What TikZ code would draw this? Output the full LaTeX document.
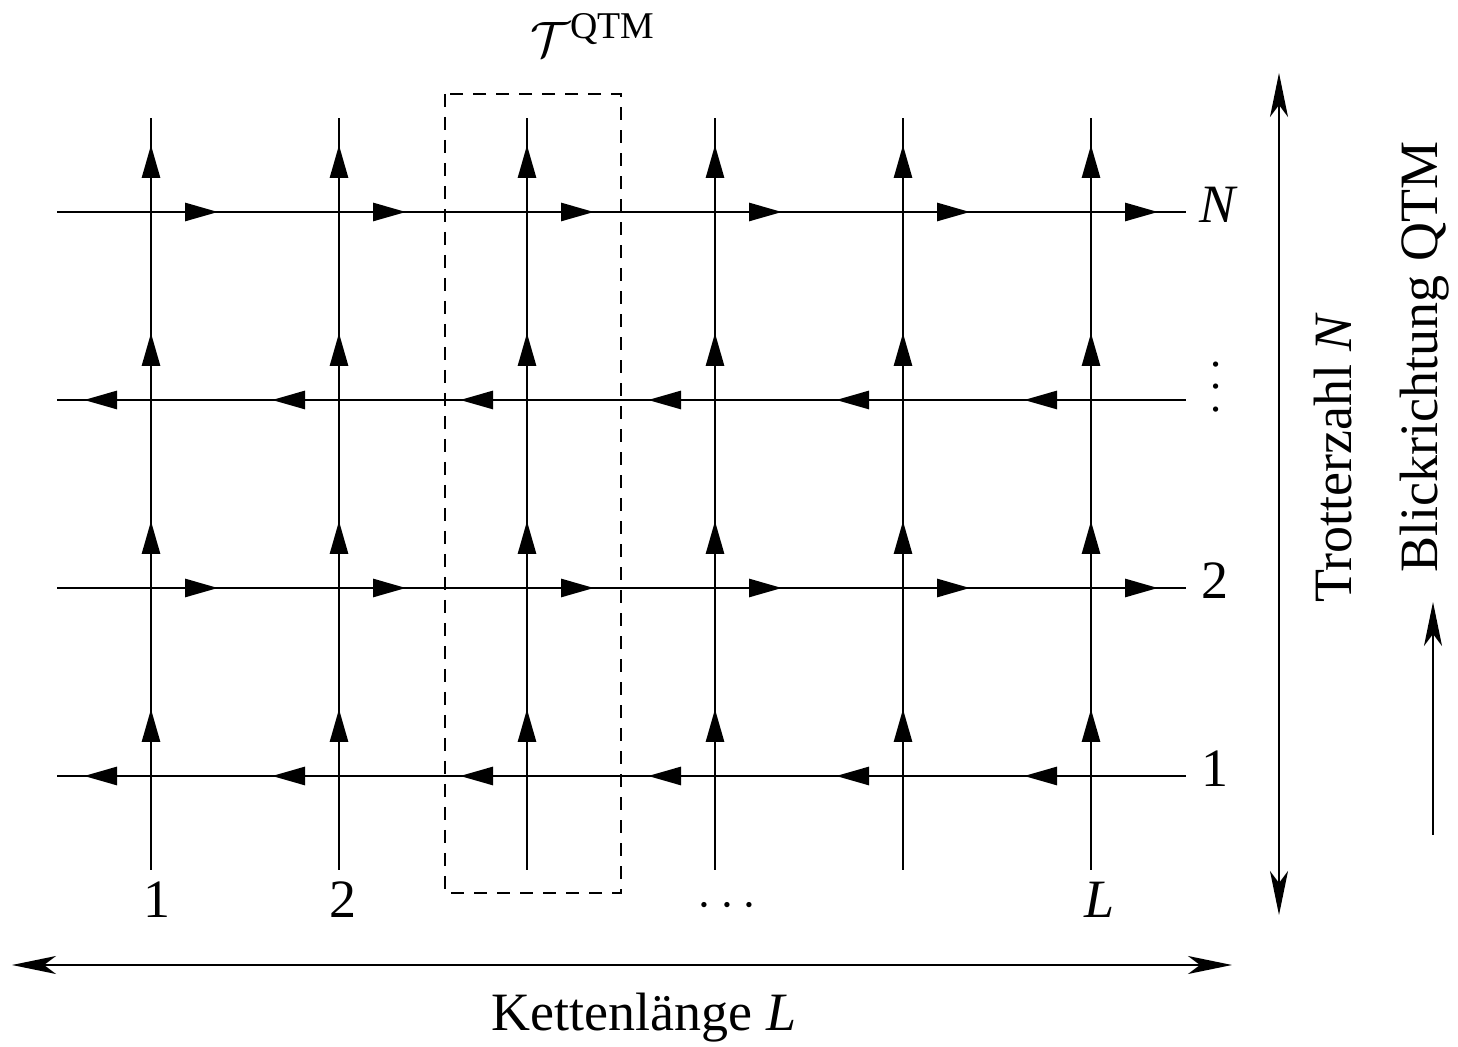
\documentclass[tikz,border=0pt]{standalone}
\usepackage{fontspec}
\setmainfont{Liberation Serif}
\usetikzlibrary{arrows.meta}
\begin{document}
\begin{tikzpicture}[x=0.5pt,y=-0.5pt,
  gridline/.style={line width=1.4pt},
  gridarrow/.style={-{Triangle[length=16.5pt,width=9pt]}, line width=1.4pt},
  longarrow/.style={line width=1pt, {Stealth[length=22pt,width=9pt,inset=6pt]}-{Stealth[length=22pt,width=9pt,inset=6pt]}},
  onearrow/.style={line width=1pt, -{Stealth[length=22pt,width=9pt,inset=6pt]}},
  boxline/.style={line width=0.8pt, dash pattern=on 6.5pt off 5pt},
  lbl/.style={font=\fontsize{27}{32}\selectfont, inner sep=0pt}]
\useasboundingbox (0,0) rectangle (1458,1047);
% grid coordinates
\foreach \i/\x in {1/151,2/339,3/527,4/715,5/903,6/1091}{
  \coordinate (vt\i) at (\x,118);
  \coordinate (vb\i) at (\x,870);
  \foreach \j/\y in {1/776,2/588,3/400,4/212}{
    \coordinate (c\i-\j) at (\x,\y);
  }
}
\foreach \j/\y in {1/776,2/588,3/400,4/212}{
  \coordinate (hl\j) at (57,\y);
  \coordinate (hr\j) at (1186,\y);
}
% dashed box
\coordinate (boxa) at (445,94);
\coordinate (boxb) at (621,893);
\draw[boxline] (boxa) rectangle (boxb);
% lines
\foreach \j in {1,...,4}{ \draw[gridline] (hl\j) -- (hr\j); }
\foreach \i in {1,...,6}{ \draw[gridline] (vb\i) -- (vt\i); }
% arrowheads
\foreach \i in {1,...,6}{
  \foreach \j in {1,...,4}{
    \draw[gridarrow] (c\i-\j) ++(0,-34) -- ++(0,-33);
  }
  \foreach \j in {2,4}{
    \draw[gridarrow] (c\i-\j) ++(34,0) -- ++(33,0);
  }
  \foreach \j in {1,3}{
    \draw[gridarrow] (c\i-\j) ++(-34,0) -- ++(-33,0);
  }
}
% column labels
\node[lbl, anchor=base] (col1) at (157,918) {1};
\node[lbl, anchor=base] (col2) at (343,918) {2};
\node[lbl, anchor=base] (colD) at (727,918) {$\cdots$};
\node[lbl, anchor=base] (colL) at (1100,918) {\textit{L}};
% row labels
\node[lbl, anchor=base west] (rowN) at (1199,223) {\textit{N}};
\node[lbl, rotate=90] (rowD) at (1217,387) {$\cdots$};
\node[lbl, anchor=base west] (row2) at (1201,599) {2};
\node[lbl, anchor=base west] (row1) at (1201,787) {1};
% title
\node[lbl] (tqtm) at (593,35) {$\mathcal{T}^{\mathrm{QTM}}$};
% long arrows
\coordinate (bl) at (12,965);
\coordinate (br) at (1232,965);
\draw[longarrow] (bl) -- (br);
\node[lbl] (kl) at (644,1018) {Kettenlänge \textit{L}};
\coordinate (rt) at (1279,73);
\coordinate (rb) at (1279,915);
\draw[longarrow] (rt) -- (rb);
\node[lbl, rotate=90] (tz) at (1333,458) {Trotterzahl \textit{N}};
\coordinate (sb) at (1433,835);
\coordinate (st) at (1433,602);
\draw[onearrow] (sb) -- (st);
\node[lbl, rotate=90] (br2) at (1425,357) {Blickrichtung QTM};
\end{tikzpicture}
\end{document}
